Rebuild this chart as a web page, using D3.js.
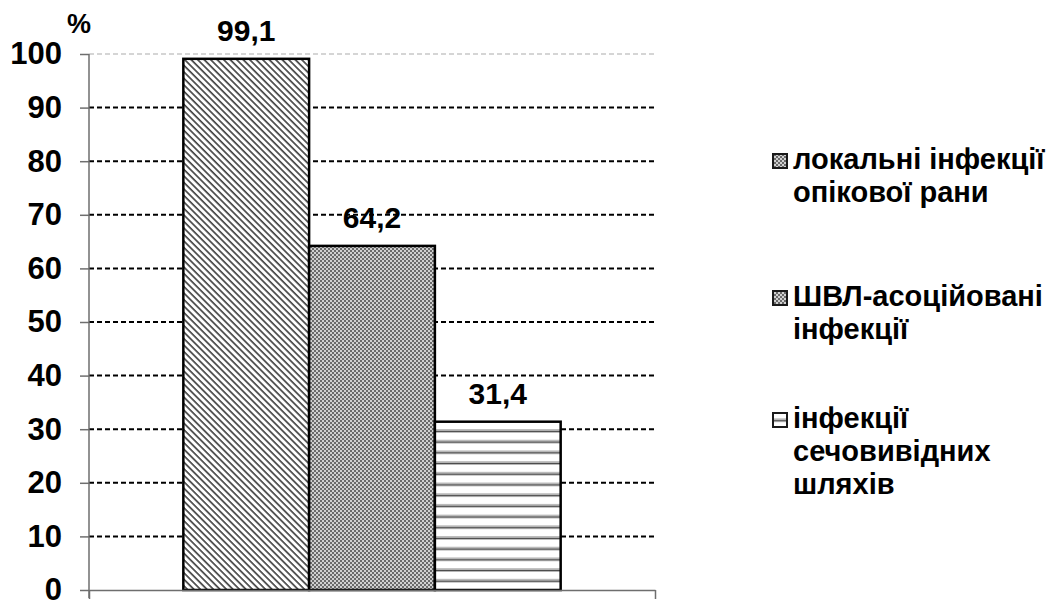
<!DOCTYPE html>
<html>
<head>
<meta charset="utf-8">
<script src="https://cdn.jsdelivr.net/npm/d3@7"></script>
<style>
  body { margin: 0; background: #fff; }
  svg { display: block; font-family: Arial, "Liberation Sans", sans-serif; font-weight: bold; }
</style>
</head>
<body>
<div id="chart"></div>
<script>
// chart data
const categories = [""];
const series = ["локальні інфекції опікової рани", "ШВЛ-асоційовані інфекції", "інфекції сечовивідних шляхів"];
const values = [99.1, 64.2, 31.4];
const valueLabels = ["99,1", "64,2", "31,4"];
const yTicks = [0, 10, 20, 30, 40, 50, 60, 70, 80, 90, 100];
const legendLines = [
    ["локальні інфекції", "опікової рани"],
    ["ШВЛ-асоційовані", "інфекції"],
    ["інфекції", "сечовивідних", "шляхів"]
];

const width = 1054, height = 601;
const plot = { left: 89, right: 655, top: 54, bottom: 590 };

const svg = d3.select("#chart").append("svg")
    .attr("width", width)
    .attr("height", height);

// patterns for the bars
const defs = svg.append("defs");

const diag = defs.append("pattern")
    .attr("id", "diag")
    .attr("patternUnits", "userSpaceOnUse")
    .attr("width", 4.6).attr("height", 4.6)
    .attr("patternTransform", "rotate(-45)");
diag.append("rect").attr("width", 4.6).attr("height", 4.6).attr("fill", "#fff");
diag.append("line").attr("x1", 1).attr("y1", 0).attr("x2", 1).attr("y2", 4.6)
    .attr("stroke", "#3a3a3a").attr("stroke-width", 1.6);

const check = defs.append("pattern")
    .attr("id", "check")
    .attr("patternUnits", "userSpaceOnUse")
    .attr("width", 4).attr("height", 4);
check.append("rect").attr("width", 4).attr("height", 4).attr("fill", "#d0d0d0");
check.append("rect").attr("width", 2).attr("height", 2).attr("fill", "#6a6a6a");
check.append("rect").attr("x", 2).attr("y", 2).attr("width", 2).attr("height", 2).attr("fill", "#6a6a6a");

const horiz = defs.append("pattern")
    .attr("id", "horiz")
    .attr("patternUnits", "userSpaceOnUse")
    .attr("width", 10).attr("height", 10.7)
    .attr("y", 1);
horiz.append("rect").attr("width", 10).attr("height", 10.7).attr("fill", "#fff");
horiz.append("rect").attr("y", 0).attr("width", 10).attr("height", 1.8).attr("fill", "#bdbdbd");
horiz.append("rect").attr("y", 1.8).attr("width", 10).attr("height", 1.5).attr("fill", "#4a4a4a");

const fills = ["url(#diag)", "url(#check)", "url(#horiz)"];

// scales
const x0 = d3.scaleBand().domain(categories).range([plot.left, plot.right]);
const x1 = d3.scaleBand().domain(series).range([0, x0.bandwidth()]).paddingInner(0).paddingOuter(0.75);
const y = d3.scaleLinear().domain([0, 100]).range([plot.bottom, plot.top]);

// gridlines
svg.append("g")
    .selectAll("line")
    .data(yTicks.filter(d => d > 0))
    .enter().append("line")
    .attr("x1", plot.left).attr("x2", plot.right)
    .attr("y1", d => y(d)).attr("y2", d => y(d))
    .attr("stroke", d => d === 100 ? "#c8c8c8" : "#000")
    .attr("stroke-width", d => d === 100 ? 1.5 : 2)
    .attr("stroke-dasharray", "5,3");

// bars
const bars = svg.append("g");
series.forEach((s, i) => {
    bars.append("rect")
        .attr("x", x0(categories[0]) + x1(s))
        .attr("y", y(values[i]))
        .attr("width", x1.bandwidth())
        .attr("height", y(0) - y(values[i]))
        .attr("fill", fills[i])
        .attr("stroke", "#000")
        .attr("stroke-width", 2.5);
});

// value labels
svg.append("g")
    .selectAll("text")
    .data(values)
    .enter().append("text")
    .attr("x", (d, i) => x0(categories[0]) + x1(series[i]) + x1.bandwidth() / 2)
    .attr("y", d => y(d) - 18)
    .attr("text-anchor", "middle")
    .attr("font-size", 30)
    .text((d, i) => valueLabels[i]);

// y axis
const yAxis = d3.axisLeft(y)
    .tickValues(yTicks)
    .tickSize(9)
    .tickPadding(18)
    .tickFormat(d3.format("d"));

const yg = svg.append("g")
    .attr("transform", "translate(" + plot.left + ",0)")
    .call(yAxis);
yg.select(".domain").remove();
yg.selectAll(".tick line").attr("stroke", "#6e6e6e").attr("stroke-width", 1.5);
yg.selectAll(".tick text")
    .attr("font-size", 31)
    .attr("font-weight", "bold")
    .attr("font-family", "Arial, 'Liberation Sans', sans-serif")
    .attr("fill", "#000");
yg.append("line")
    .attr("x1", 0).attr("x2", 0)
    .attr("y1", plot.top).attr("y2", plot.bottom + 8)
    .attr("stroke", "#6e6e6e").attr("stroke-width", 1.5);

// x axis, ticks at category borders
const xb = d3.scaleLinear().domain([0, 1]).range([plot.left, plot.right]);
const xg = svg.append("g")
    .attr("transform", "translate(0," + plot.bottom + ")")
    .call(d3.axisBottom(xb).tickValues([0, 1]).tickSize(9).tickSizeOuter(0).tickFormat(""));
xg.select(".domain").attr("stroke", "#6e6e6e").attr("stroke-width", 1.5);
xg.selectAll(".tick line").attr("stroke", "#6e6e6e").attr("stroke-width", 1.5);

// unit label
svg.append("text")
    .attr("x", 79).attr("y", 33)
    .attr("text-anchor", "middle")
    .attr("font-size", 27)
    .text("%");

// legend
const legendFills = ["url(#check)", "url(#check)", "url(#horiz)"];
const legendTop = [169, 306, 428];
const legend = svg.append("g");
legendLines.forEach((lines, i) => {
    legend.append("rect")
        .attr("x", 773).attr("y", legendTop[i] - 15)
        .attr("width", 14).attr("height", 14)
        .attr("fill", legendFills[i])
        .attr("stroke", "#1a1a1a")
        .attr("stroke-width", 2);
    const t = legend.append("text")
        .attr("x", 793)
        .attr("y", legendTop[i])
        .attr("font-size", 29);
    lines.forEach((l, j) => {
        t.append("tspan").attr("x", 793).attr("dy", j === 0 ? 0 : 33).text(l);
    });
});
</script>
</body>
</html>
